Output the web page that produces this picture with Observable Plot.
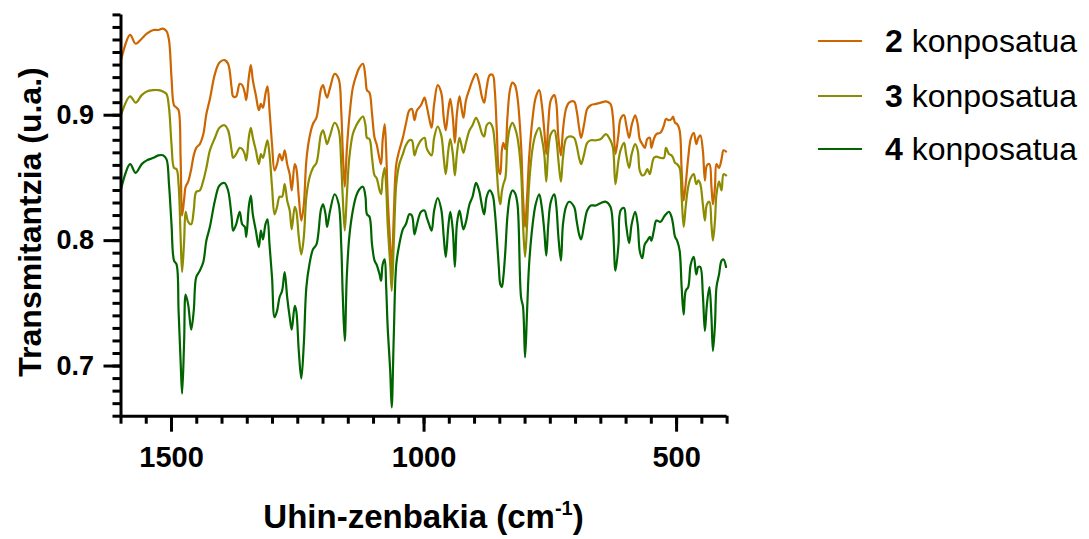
<!DOCTYPE html>
<html>
<head>
<meta charset="utf-8">
<script src="https://cdn.jsdelivr.net/npm/d3@7"></script>
<script src="https://cdn.jsdelivr.net/npm/@observablehq/plot@0.6"></script>
<style>
  body { margin: 0; background: #fff; }
  #wrap { position: relative; width: 1089px; height: 539px; font-family: "Liberation Sans", Arial, sans-serif; }
  .item { position: absolute; left: 818px; height: 0; white-space: nowrap; }
  .item .sw { position: absolute; left: 0; top: -1px; width: 44px; height: 2px; }
  .item .lb { position: absolute; left: 67px; top: 0; transform: translateY(-50%); font-size: 32px; line-height: 1; color: #000; }
  .item .lb b { font-weight: bold; }
</style>
</head>
<body>
<div id="wrap"></div>
<script>
// ---- data ----
const wavenumber = [
  1600, 1582, 1571, 1559, 1549, 1536, 1526, 1517, 1510, 1505, 1500, 1495, 1490, 1486, 1482, 1479, 1475, 1472, 1467, 1461, 1456, 1451, 1444, 1437, 1431, 1424, 1414, 1405,
  1395, 1388, 1381, 1378, 1372, 1365, 1360, 1355, 1352, 1347, 1343, 1339, 1333, 1327, 1323, 1319, 1314, 1310, 1306, 1301, 1296, 1291, 1286, 1281, 1276, 1271, 1266, 1262, 1256, 1253, 1248, 1243, 1238, 1233, 1227, 1220, 1213, 1204,
  1200, 1195, 1192, 1186, 1177, 1169, 1164, 1161, 1157, 1153, 1148, 1141, 1134, 1128, 1121, 1116, 1113, 1108, 1103, 1098, 1094, 1088, 1085, 1082, 1078, 1075, 1072, 1067, 1064, 1060, 1055, 1049, 1042, 1036, 1029, 1024, 1019, 1014, 1006,
  999, 995, 990, 985, 980, 973, 966, 961, 957, 952, 948, 943, 939, 935, 930, 927, 922, 917, 910, 904, 897, 891, 885, 881, 876, 870, 864, 860, 856, 852, 849, 846, 843, 839, 835, 830, 825, 820, 815,
  808, 804, 800, 796, 792, 785, 779, 772, 767, 762, 758, 754, 749, 742, 738, 734, 729, 725, 719, 713, 703, 698, 693, 689, 683, 677, 670, 660, 650, 640, 631, 626, 621, 615,
  611, 604, 600, 594, 589, 582, 577, 573, 568, 563, 558, 553, 550, 545, 540, 532, 525, 521, 515, 510, 507, 503, 499, 494, 490, 486, 482, 477, 472, 466, 461, 457, 453, 448, 444, 440, 435, 431, 428, 424, 421, 416, 411, 407, 402
];
const compound2 = [
  0.944, 0.964, 0.957, 0.961, 0.965, 0.968, 0.968, 0.969, 0.967, 0.960, 0.930, 0.908, 0.906, 0.904, 0.866, 0.820, 0.833, 0.843, 0.847, 0.857, 0.868, 0.874, 0.877, 0.885, 0.901, 0.913, 0.933, 0.942,
  0.944, 0.941, 0.922, 0.915, 0.915, 0.925, 0.924, 0.918, 0.912, 0.930, 0.940, 0.928, 0.916, 0.904, 0.909, 0.906, 0.917, 0.923, 0.904, 0.877, 0.856, 0.861, 0.869, 0.864, 0.872, 0.861, 0.853, 0.840, 0.861, 0.858, 0.835, 0.816, 0.829, 0.864, 0.882, 0.893, 0.898, 0.921,
  0.924, 0.917, 0.914, 0.922, 0.933, 0.929, 0.904, 0.872, 0.843, 0.872, 0.898, 0.922, 0.932, 0.938, 0.941, 0.930, 0.920, 0.918, 0.901, 0.882, 0.877, 0.865, 0.861, 0.880, 0.893, 0.872, 0.835, 0.797, 0.775, 0.819, 0.861, 0.872, 0.882, 0.893, 0.904, 0.905, 0.896, 0.904, 0.908,
  0.914, 0.908, 0.898, 0.890, 0.909, 0.924, 0.918, 0.898, 0.888, 0.904, 0.913, 0.898, 0.878, 0.901, 0.915, 0.909, 0.898, 0.912, 0.921, 0.928, 0.933, 0.926, 0.914, 0.910, 0.922, 0.932, 0.932, 0.920, 0.888, 0.856, 0.853, 0.872, 0.878, 0.873, 0.898, 0.920, 0.926, 0.924, 0.914,
  0.877, 0.835, 0.811, 0.835, 0.866, 0.898, 0.914, 0.920, 0.909, 0.888, 0.869, 0.893, 0.912, 0.916, 0.909, 0.882, 0.868, 0.888, 0.905, 0.910, 0.911, 0.904, 0.890, 0.882, 0.893, 0.905, 0.908, 0.909, 0.910, 0.911, 0.909, 0.898, 0.869, 0.885,
  0.897, 0.900, 0.893, 0.882, 0.892, 0.900, 0.893, 0.881, 0.877, 0.874, 0.881, 0.882, 0.874, 0.881, 0.885, 0.886, 0.892, 0.897, 0.896, 0.897, 0.899, 0.894, 0.893, 0.888, 0.856, 0.832, 0.845, 0.866, 0.881, 0.886, 0.877, 0.882, 0.884, 0.872, 0.848, 0.860, 0.861, 0.843, 0.829, 0.843, 0.861, 0.858, 0.865, 0.872, 0.871
];
const compound3 = [
  0.900, 0.915, 0.910, 0.916, 0.919, 0.920, 0.920, 0.919, 0.917, 0.906, 0.877, 0.858, 0.857, 0.845, 0.803, 0.775, 0.800, 0.823, 0.815, 0.813, 0.824, 0.839, 0.840, 0.848, 0.858, 0.872, 0.882, 0.890,
  0.892, 0.888, 0.872, 0.866, 0.869, 0.874, 0.873, 0.869, 0.864, 0.882, 0.890, 0.882, 0.872, 0.861, 0.869, 0.866, 0.874, 0.880, 0.869, 0.843, 0.821, 0.827, 0.835, 0.835, 0.845, 0.832, 0.824, 0.809, 0.827, 0.824, 0.803, 0.789, 0.803, 0.835, 0.850, 0.858, 0.862, 0.885,
  0.888, 0.881, 0.877, 0.884, 0.894, 0.888, 0.861, 0.835, 0.808, 0.835, 0.866, 0.885, 0.892, 0.896, 0.899, 0.892, 0.882, 0.881, 0.866, 0.852, 0.850, 0.840, 0.837, 0.850, 0.858, 0.843, 0.813, 0.781, 0.760, 0.797, 0.845, 0.861, 0.869, 0.876, 0.880, 0.880, 0.868, 0.874, 0.880,
  0.882, 0.874, 0.870, 0.868, 0.882, 0.891, 0.884, 0.866, 0.853, 0.872, 0.881, 0.869, 0.852, 0.869, 0.882, 0.878, 0.870, 0.878, 0.888, 0.892, 0.898, 0.893, 0.885, 0.883, 0.892, 0.894, 0.890, 0.877, 0.856, 0.835, 0.829, 0.839, 0.845, 0.850, 0.877, 0.890, 0.894, 0.890, 0.882,
  0.856, 0.813, 0.787, 0.813, 0.845, 0.874, 0.885, 0.890, 0.882, 0.869, 0.847, 0.872, 0.885, 0.888, 0.881, 0.864, 0.847, 0.866, 0.881, 0.883, 0.882, 0.876, 0.866, 0.861, 0.869, 0.878, 0.880, 0.880, 0.881, 0.885, 0.880, 0.874, 0.845, 0.864,
  0.872, 0.878, 0.869, 0.858, 0.869, 0.877, 0.872, 0.856, 0.852, 0.853, 0.857, 0.853, 0.858, 0.866, 0.867, 0.866, 0.866, 0.874, 0.869, 0.868, 0.866, 0.862, 0.861, 0.858, 0.835, 0.811, 0.827, 0.843, 0.850, 0.853, 0.845, 0.848, 0.845, 0.829, 0.816, 0.829, 0.831, 0.813, 0.800, 0.816, 0.837, 0.847, 0.840, 0.853, 0.852
];
const compound4 = [
  0.841, 0.861, 0.854, 0.861, 0.864, 0.866, 0.868, 0.868, 0.865, 0.845, 0.813, 0.784, 0.781, 0.744, 0.704, 0.678, 0.720, 0.757, 0.749, 0.729, 0.744, 0.771, 0.776, 0.783, 0.800, 0.811, 0.832, 0.844,
  0.846, 0.840, 0.819, 0.808, 0.813, 0.823, 0.813, 0.811, 0.803, 0.827, 0.836, 0.821, 0.808, 0.795, 0.808, 0.801, 0.813, 0.817, 0.797, 0.771, 0.739, 0.744, 0.755, 0.760, 0.775, 0.755, 0.739, 0.729, 0.748, 0.744, 0.712, 0.690, 0.718, 0.763, 0.781, 0.793, 0.797, 0.825,
  0.829, 0.821, 0.811, 0.824, 0.837, 0.829, 0.797, 0.757, 0.720, 0.771, 0.803, 0.824, 0.836, 0.841, 0.843, 0.835, 0.821, 0.819, 0.797, 0.784, 0.781, 0.773, 0.768, 0.781, 0.785, 0.763, 0.731, 0.696, 0.667, 0.723, 0.781, 0.797, 0.809, 0.813, 0.821, 0.820, 0.805, 0.813, 0.823,
  0.824, 0.819, 0.813, 0.808, 0.824, 0.834, 0.825, 0.803, 0.787, 0.811, 0.823, 0.808, 0.779, 0.813, 0.824, 0.819, 0.809, 0.815, 0.829, 0.835, 0.846, 0.840, 0.827, 0.821, 0.835, 0.840, 0.836, 0.824, 0.803, 0.779, 0.765, 0.763, 0.771, 0.792, 0.819, 0.835, 0.840, 0.838, 0.829,
  0.755, 0.747, 0.707, 0.744, 0.781, 0.813, 0.829, 0.837, 0.827, 0.808, 0.788, 0.813, 0.831, 0.837, 0.827, 0.803, 0.784, 0.813, 0.827, 0.831, 0.827, 0.816, 0.805, 0.801, 0.813, 0.824, 0.828, 0.828, 0.830, 0.831, 0.827, 0.811, 0.776, 0.797,
  0.824, 0.826, 0.813, 0.798, 0.813, 0.823, 0.813, 0.792, 0.786, 0.797, 0.800, 0.803, 0.800, 0.808, 0.816, 0.815, 0.819, 0.821, 0.823, 0.819, 0.813, 0.803, 0.800, 0.792, 0.763, 0.741, 0.760, 0.763, 0.781, 0.787, 0.773, 0.779, 0.779, 0.757, 0.728, 0.749, 0.763, 0.739, 0.712, 0.733, 0.763, 0.773, 0.784, 0.785, 0.779
];
const seriesLabels = ["2", "3", "4"];
const legendSuffix = " konposatua";
const seriesColors = ["#cc6600", "#8c8c00", "#006400"];
const xMajorTicks = [1500, 1000, 500];
const yMajorTicks = [0.7, 0.8, 0.9];
const xTitle = "Uhin-zenbakia (cm";
const xTitleSup = "-1";
const yTitle = "Transmitantzia (u.a.)";

// ---- build table ----
const rows = [];
[compound2, compound3, compound4].forEach((vals, k) => {
  vals.forEach((v, i) => rows.push({ wn: wavenumber[i], t: v, s: seriesLabels[k] }));
});
const xMinor = d3.range(400, 1601, 50);
const yMinor = d3.range(66, 99).map(d => d / 100);

const W = 1089, H = 539;
const mL = 120.5, mR = 362.4, mT = 14.4, mB = 123.3;

const plot = Plot.plot({
  width: W, height: H,
  marginLeft: mL, marginRight: mR, marginTop: mT, marginBottom: mB,
  x: { domain: [1600, 400] },
  y: { domain: [0.66, 0.98] },
  color: { domain: seriesLabels, range: seriesColors },
  style: { fontFamily: "'Liberation Sans', Arial, sans-serif", background: "white", color: "black" },
  marks: [
    Plot.line(rows, { x: "wn", y: "t", z: "s", stroke: "s", strokeWidth: 2.2, curve: "catmull-rom" }),
    Plot.axisX({ ticks: xMinor, tickSize: 8, tickFormat: () => "", strokeWidth: 3, label: null }),
    Plot.axisX({ ticks: xMajorTicks, tickSize: 16, tickPadding: 14, tickFormat: d => String(d), strokeWidth: 3, fontSize: 29, fontWeight: "bold", label: null }),
    Plot.axisY({ ticks: yMinor, tickSize: 8, tickFormat: () => "", strokeWidth: 3, label: null }),
    Plot.axisY({ ticks: yMajorTicks, tickSize: 17, tickPadding: 10, tickFormat: d => d.toFixed(1), strokeWidth: 3, fontSize: 27, fontWeight: "bold", label: null }),
    Plot.ruleY([0.66], { strokeWidth: 3, stroke: "black" }),
    Plot.ruleX([1600], { strokeWidth: 3, stroke: "black" })
  ]
});

const wrap = document.getElementById("wrap");
wrap.appendChild(plot);

// axis titles
const svg = d3.select(plot);
const xt = svg.append("text")
  .attr("x", (mL + (W - mR)) / 2).attr("y", 528)
  .attr("text-anchor", "middle")
  .attr("font-size", 33).attr("font-weight", "bold")
  .attr("font-family", "'Liberation Sans', Arial, sans-serif")
  .attr("fill", "black");
xt.append("tspan").text(xTitle);
xt.append("tspan").attr("font-size", 20).attr("dy", -13).text(xTitleSup);
xt.append("tspan").attr("dy", 13).text(")");

svg.append("text")
  .attr("transform", `translate(41, 222) rotate(-90)`)
  .attr("text-anchor", "middle")
  .attr("font-size", 32).attr("font-weight", "bold")
  .attr("font-family", "'Liberation Sans', Arial, sans-serif")
  .attr("fill", "black")
  .text(yTitle);

// legend
const legendY = [41, 96, 149];
seriesLabels.forEach((lab, i) => {
  const item = document.createElement("div");
  item.className = "item";
  item.style.top = legendY[i] + "px";
  item.innerHTML = `<div class="sw" style="background:${seriesColors[i]}"></div><div class="lb"><b>${lab}</b>${legendSuffix}</div>`;
  wrap.appendChild(item);
});
</script>
</body>
</html>
